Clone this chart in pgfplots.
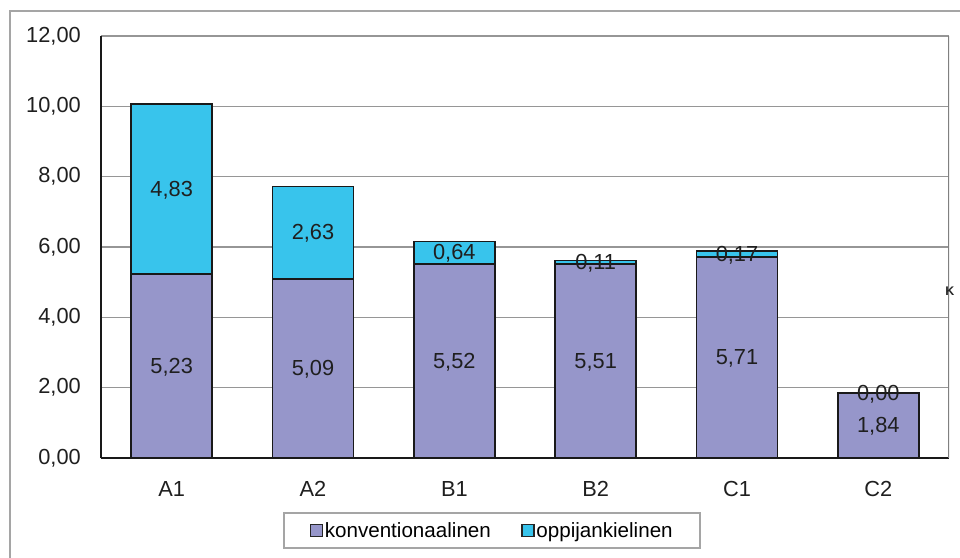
\documentclass[border=0pt]{standalone}
\usepackage{fontspec}
\setmainfont{Liberation Sans}
\usepackage{pgfplots}
\usepackage{pgfplotstable}
\pgfplotsset{compat=1.18}

\definecolor{konv}{RGB}{150,150,202}
\definecolor{oppi}{RGB}{56,196,236}
\definecolor{gridgray}{RGB}{150,150,150}
\definecolor{framegray}{RGB}{165,165,165}

% shares per level: conventional part and learner-language part
\pgfplotstableread{
idx konv oppi
0 5.23 4.83
1 5.09 2.63
2 5.52 0.64
3 5.51 0.11
4 5.71 0.17
5 1.84 0.00
}\shares

\newcommand{\chartfont}{\fontsize{21.8bp}{26bp}\selectfont}
\newcommand{\legendfont}{\fontsize{20.6bp}{24bp}\selectfont}

\pgfplotsset{
  plotframe/.style={
    at={(0bp,0bp)}, anchor=south west,
    scale only axis, width=848bp, height=422bp,
    xmin=-0.5, xmax=5.5, ymin=0, ymax=12,
  },
}

\begin{document}
\begin{tikzpicture}
\begin{axis}[
  plotframe,
  ybar stacked, bar width=81bp,
  xtick={0,...,5}, xticklabels={A1,A2,B1,B2,C1,C2},
  ytick={0,2,...,12},
  axis lines=left,
  axis line style={-, black!90, line width=1.5bp},
  major tick length=0pt,
  ymajorgrids, grid style={gridgray, line width=1.3bp},
  /pgf/number format/.cd, use comma, fixed, fixed zerofill, precision=2, assume math mode=true,
  /pgfplots/.cd,
  tick label style={font=\chartfont, text=black!88},
  yticklabel style={inner xsep=0pt, xshift=-20bp},
  xticklabel style={inner ysep=0pt, yshift=-23bp},
  legend columns=2,
  legend cell align=left,
  legend style={at={(0.4611,-0.1718)}, anchor=center, draw=framegray, line width=1.5bp,
    font=\legendfont, inner xsep=26bp, inner ysep=7.5bp,
    nodes={inner xsep=1.5bp},
    /tikz/every even column/.append style={column sep=29bp}},
  legend image code/.code={\draw[#1, draw=black!85, line width=1.5bp] (0bp,-6bp) rectangle (12bp,6bp);},
]
\addplot[fill=konv, draw=black!90, line width=1.6bp]
  table[x=idx, y=konv] {\shares};
\addlegendentry{konventionaalinen}
\addplot[fill=oppi, draw=black!90, line width=1.6bp]
  table[x=idx, y=oppi] {\shares};
\addlegendentry{oppijankielinen}
\draw[gridgray!85!black, line width=2bp] (rel axis cs:1,0) -- (rel axis cs:1,1);
\end{axis}
% value labels in the middle of each segment
\begin{axis}[
  plotframe, hide axis,
  /pgf/number format/.cd, use comma, fixed, fixed zerofill, precision=2, assume math mode=true,
  /pgfplots/.cd,
  nodes near coords, point meta=explicit,
  every node near coord/.append style={font=\chartfont, text=black!88, anchor=center, yshift=-1bp},
]
\addplot[draw=none, mark=none] table[x=idx, y expr=\thisrow{konv}/2, meta=konv] {\shares};
\addplot[draw=none, mark=none] table[x=idx, y expr=\thisrow{konv}+\thisrow{oppi}/2, meta=oppi] {\shares};
\end{axis}
\draw[framegray, line width=1.5bp] (-91bp,-120bp) -- (-91bp,447bp) -- (880bp,447bp);
\node[font=\bfseries\fontsize{12.5bp}{12.5bp}\selectfont, text=black!85] at (849bp,167bp) {K};
\pgfresetboundingbox
\useasboundingbox (-101bp,-100bp) rectangle (859bp,458bp);
\end{tikzpicture}
\end{document}
